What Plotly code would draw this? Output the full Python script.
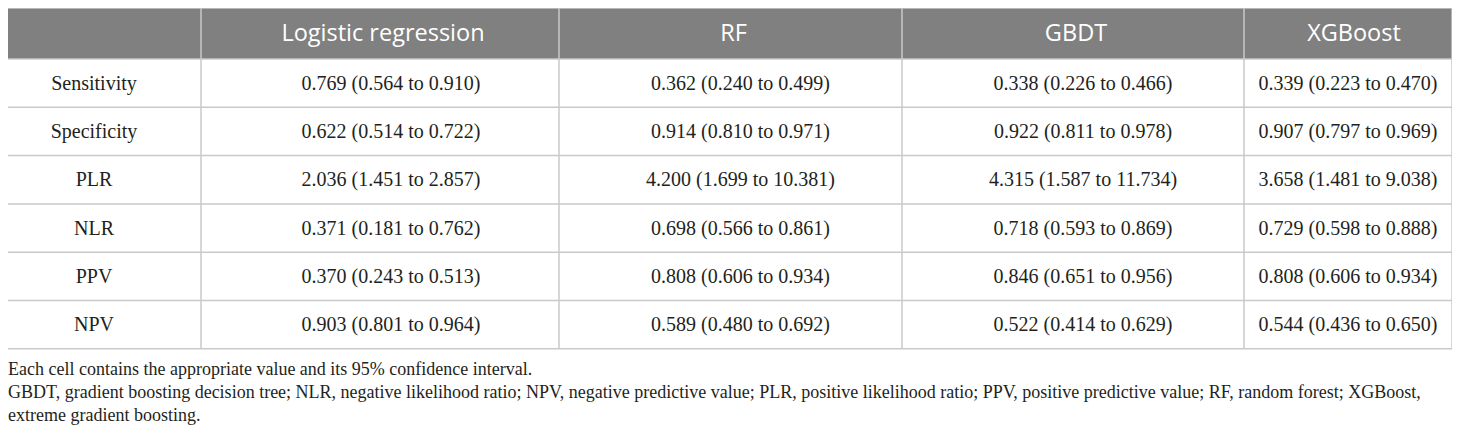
import plotly.graph_objects as go

W, H = 1460, 436
OFF = 8  # page body margin in the browser

models = ["Logistic regression", "RF", "GBDT", "XGBoost"]
metrics = ["Sensitivity", "Specificity", "PLR", "NLR", "PPV", "NPV"]

logistic = ["0.769 (0.564 to 0.910)", "0.622 (0.514 to 0.722)", "2.036 (1.451 to 2.857)",
            "0.371 (0.181 to 0.762)", "0.370 (0.243 to 0.513)", "0.903 (0.801 to 0.964)"]
rf = ["0.362 (0.240 to 0.499)", "0.914 (0.810 to 0.971)", "4.200 (1.699 to 10.381)",
      "0.698 (0.566 to 0.861)", "0.808 (0.606 to 0.934)", "0.589 (0.480 to 0.692)"]
gbdt = ["0.338 (0.226 to 0.466)", "0.922 (0.811 to 0.978)", "4.315 (1.587 to 11.734)",
        "0.718 (0.593 to 0.869)", "0.846 (0.651 to 0.956)", "0.522 (0.414 to 0.629)"]
xgboost = ["0.339 (0.223 to 0.470)", "0.907 (0.797 to 0.969)", "3.658 (1.481 to 9.038)",
           "0.729 (0.598 to 0.888)", "0.808 (0.606 to 0.934)", "0.544 (0.436 to 0.650)"]

footnotes = [
    "Each cell contains the appropriate value and its 95% confidence interval.",
    "GBDT, gradient boosting decision tree; NLR, negative likelihood ratio; NPV, negative predictive value; "
    "PLR, positive likelihood ratio; PPV, positive predictive value; RF, random forest; XGBoost,",
    "extreme gradient boosting.",
]

serif = "Liberation Serif, DejaVu Serif, serif"
sans = "Open Sans, Noto Sans, sans-serif"
grid = "#c9c9c9"
ink = "#231f20"

# table geometry in page pixels
col_edges = [7, 201, 559, 902, 1244, 1452]
head_top, head_bot = 8, 59
row_h = 48.3
row_edges = [head_bot + i * row_h for i in range(len(metrics) + 1)]
table_bot = row_edges[-1]

# the original cells are not quite centred
head_shift = [0, 3, 3, 3, 6]
body_shift = [-10, 11, 10, 10, 0]

fig = go.Figure()

# header band
fig.add_shape(type="rect", x0=col_edges[0], x1=col_edges[-1], y0=head_top, y1=head_bot,
              fillcolor="#808080", line_width=0, layer="below")

# grid lines
for y in [head_top] + row_edges:
    fig.add_shape(type="line", x0=col_edges[0], x1=col_edges[-1], y0=y, y1=y,
                  line=dict(color=grid, width=1.5))
for x in col_edges:
    fig.add_shape(type="line", x0=x, x1=x, y0=head_top, y1=table_bot,
                  line=dict(color=grid, width=1.5))

centers = [(a + b) / 2 for a, b in zip(col_edges[:-1], col_edges[1:])]
row_mid = [(a + b) / 2 + 1.5 for a, b in zip(row_edges[:-1], row_edges[1:])]

# header text
fig.add_trace(go.Scatter(
    x=[c + s for c, s in zip(centers[1:], head_shift[1:])],
    y=[(head_top + head_bot) / 2 + 2] * len(models),
    text=models, mode="text", textposition="middle center",
    textfont=dict(family=sans, size=23.5, color="white"),
    hoverinfo="skip", cliponaxis=False,
))

# body columns
for cx, s, col in zip(centers, body_shift, [metrics, logistic, rf, gbdt, xgboost]):
    fig.add_trace(go.Scatter(
        x=[cx + s] * len(col), y=row_mid, text=col,
        mode="text", textposition="middle center",
        textfont=dict(family=serif, size=20, color=ink),
        hoverinfo="skip", cliponaxis=False,
    ))

# footnotes (anchor kept inside the x range, shifted back to the table edge)
for i, line in enumerate(footnotes):
    fig.add_annotation(
        text=line, xref="x", yref="y", x=col_edges[0] + 10, xshift=-10,
        y=369 + 23 * i,
        xanchor="left", yanchor="middle", showarrow=False, borderpad=0,
        font=dict(family=serif, size=18, color=ink),
    )

fig.update_layout(
    width=W - OFF, height=H - OFF,
    margin=dict(l=0, r=0, t=0, b=0, pad=0),
    paper_bgcolor="white", plot_bgcolor="white",
    showlegend=False,
    xaxis=dict(range=[OFF, W], visible=False, fixedrange=True),
    yaxis=dict(range=[H, OFF], visible=False, fixedrange=True),
)

fig.write_html("out.html")
